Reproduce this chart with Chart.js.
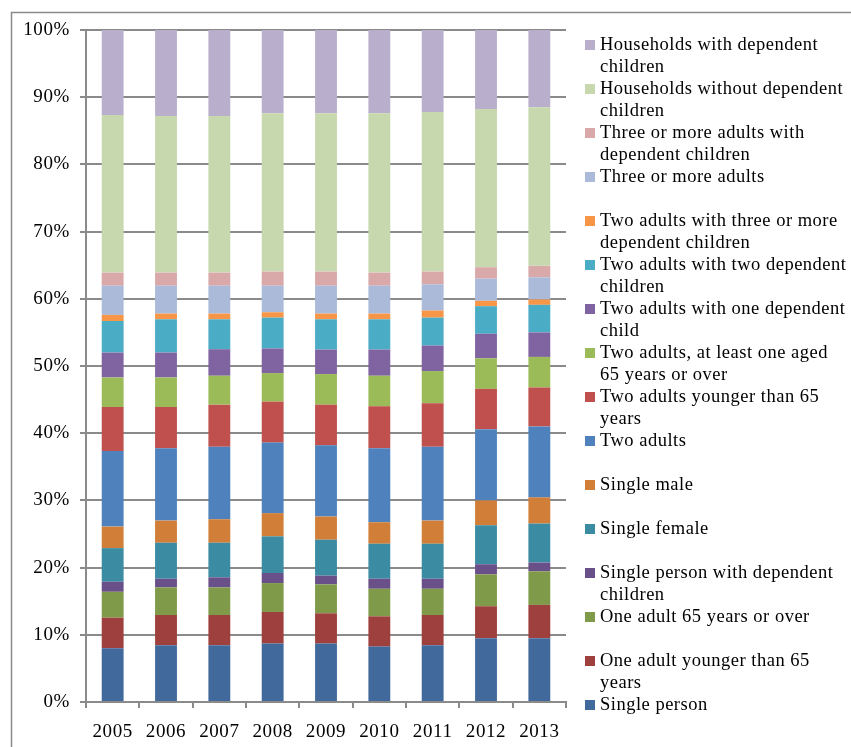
<!DOCTYPE html>
<html>
<head>
<meta charset="utf-8">
<script src="https://cdn.jsdelivr.net/npm/chart.js@4/dist/chart.umd.min.js"></script>
<style>
  html, body { margin: 0; padding: 0; background: #fff; }
  canvas { display: block; }
</style>
</head>
<body>
<canvas id="chart" width="851" height="747"></canvas>
<script>
// Household composition shares by year (percent of all households)
const years = ['2005', '2006', '2007', '2008', '2009', '2010', '2011', '2012', '2013'];
const yTicks = [0, 10, 20, 30, 40, 50, 60, 70, 80, 90, 100];

const singlePerson            = [8.0, 8.45, 8.45, 8.7, 8.7, 8.25, 8.45, 9.5, 9.5];
const oneAdultUnder65         = [4.55, 4.5, 4.5, 4.7, 4.5, 4.5, 4.5, 4.75, 4.95];
const oneAdult65Plus          = [3.85, 4.1, 4.1, 4.3, 4.3, 4.1, 3.9, 4.75, 5.0];
const singleWithChildren      = [1.5, 1.3, 1.5, 1.5, 1.3, 1.5, 1.5, 1.5, 1.3];
const singleFemale            = [5.0, 5.35, 5.15, 5.45, 5.35, 5.2, 5.2, 5.8, 5.8];
const singleMale              = [3.2, 3.3, 3.5, 3.45, 3.45, 3.2, 3.45, 3.7, 3.9];
const twoAdults               = [11.25, 10.75, 10.8, 10.5, 10.6, 11.0, 11.0, 10.6, 10.55];
const twoAdultsUnder65        = [6.55, 6.15, 6.25, 6.1, 6.05, 6.25, 6.45, 6.0, 5.8];
const twoAdults65Plus         = [4.4, 4.4, 4.3, 4.25, 4.55, 4.55, 4.8, 4.55, 4.55];
const twoAdultsOneChild       = [3.7, 3.7, 3.95, 3.65, 3.65, 3.9, 3.8, 3.65, 3.65];
const twoAdultsTwoChildren    = [4.7, 4.95, 4.45, 4.6, 4.5, 4.5, 4.15, 4.1, 4.1];
const twoAdultsThreeChildren  = [0.9, 0.85, 0.85, 0.8, 0.85, 0.85, 1.05, 0.8, 0.8];
const threeAdults             = [4.35, 4.15, 4.15, 3.95, 4.15, 4.15, 3.9, 3.3, 3.3];
const threeAdultsWithChildren = [1.95, 1.95, 1.95, 2.1, 2.1, 1.95, 1.9, 1.7, 1.7];
const householdsNoChildren    = [23.45, 23.3, 23.3, 23.55, 23.55, 23.7, 23.75, 23.55, 23.6];
const householdsWithChildren  = [12.65, 12.8, 12.8, 12.4, 12.4, 12.4, 12.2, 11.75, 11.5];

// Series from the bottom of each stack upward; label lines as shown in the key
const series = [
  { lines: ['Single person'], data: singlePerson, color: '#41699c' },
  { lines: ['One adult younger than 65', 'years'], data: oneAdultUnder65, color: '#9e403e' },
  { lines: ['One adult 65 years or over'], data: oneAdult65Plus, color: '#7f9a48' },
  { lines: ['Single person with dependent', 'children'], data: singleWithChildren, color: '#695088' },
  { lines: ['Single female'], data: singleFemale, color: '#3b8ca3' },
  { lines: ['Single male'], data: singleMale, color: '#d17f38' },
  { lines: ['Two adults'], data: twoAdults, color: '#4f81bd' },
  { lines: ['Two adults younger than 65', 'years'], data: twoAdultsUnder65, color: '#c0504d' },
  { lines: ['Two adults, at least one aged', '65 years or over'], data: twoAdults65Plus, color: '#9bbb59' },
  { lines: ['Two adults with one dependent', 'child'], data: twoAdultsOneChild, color: '#8064a2' },
  { lines: ['Two adults with two dependent', 'children'], data: twoAdultsTwoChildren, color: '#4bacc6' },
  { lines: ['Two adults with three or more', 'dependent children'], data: twoAdultsThreeChildren, color: '#f79646' },
  { lines: ['Three or more adults'], data: threeAdults, color: '#aabad8' },
  { lines: ['Three or more adults with', 'dependent children'], data: threeAdultsWithChildren, color: '#d9a9a9' },
  { lines: ['Households without dependent', 'children'], data: householdsNoChildren, color: '#c7d7ae' },
  { lines: ['Households with dependent', 'children'], data: householdsWithChildren, color: '#b9aecb' }
];

const FONT = '"Liberation Serif", "Times New Roman", serif';
const AXIS_GREY = '#8a8a8a';

// Frame around the whole chart (top and left edges visible); slightly airy text
const framePlugin = {
  id: 'frame',
  beforeDraw(chart) {
    const ctx = chart.ctx;
    ctx.letterSpacing = '0.6px';
    ctx.save();
    ctx.strokeStyle = AXIS_GREY;
    ctx.lineWidth = 1.5;
    ctx.beginPath();
    ctx.moveTo(11.5, chart.height + 2);
    ctx.lineTo(11.5, 12.5);
    ctx.lineTo(chart.width + 2, 12.5);
    ctx.stroke();
    ctx.restore();
  }
};

// Key on the right, listed top-down from the last series to the first
const sideLegend = {
  id: 'sideLegend',
  afterDraw(chart) {
    const ctx = chart.ctx;
    ctx.save();
    ctx.letterSpacing = '0.5px';
    ctx.font = '18.5px ' + FONT;
    ctx.textBaseline = 'middle';
    ctx.textAlign = 'left';
    const n = chart.data.datasets.length;
    for (let i = 0; i < n; i++) {
      const ds = chart.data.datasets[n - 1 - i];
      const y = 45 + i * 44;
      ctx.fillStyle = ds.backgroundColor;
      ctx.fillRect(585, y - 5, 10, 10);
      ctx.fillStyle = '#000';
      ds.labelLines.forEach((line, k) => ctx.fillText(line, 600, y + k * 22.5));
    }
    ctx.restore();
  }
};

new Chart(document.getElementById('chart'), {
  type: 'bar',
  data: {
    labels: years,
    datasets: series.map(s => ({
      label: s.lines.join(' '),
      labelLines: s.lines,
      data: s.data,
      backgroundColor: s.color,
      borderWidth: 0,
      categoryPercentage: 1,
      barPercentage: 0.41
    }))
  },
  options: {
    responsive: false,
    animation: false,
    layout: { padding: { left: 0, right: 285, top: 30, bottom: 0 } },
    plugins: {
      legend: { display: false },
      tooltip: { enabled: false }
    },
    scales: {
      x: {
        stacked: true,
        grid: {
          display: true,
          drawOnChartArea: false,
          drawTicks: true,
          tickLength: 6,
          color: AXIS_GREY,
          lineWidth: 2
        },
        border: { color: AXIS_GREY, width: 2 },
        ticks: {
          color: '#000',
          font: { family: FONT, size: 19 },
          padding: 13,
          maxRotation: 0
        },
        afterFit(scale) { scale.height = 45; }
      },
      y: {
        stacked: true,
        min: 0,
        max: 100,
        afterBuildTicks(scale) { scale.ticks = yTicks.map(v => ({ value: v })); },
        grid: {
          color: AXIS_GREY,
          lineWidth: 2,
          tickLength: 6
        },
        border: { color: AXIS_GREY, width: 2 },
        ticks: {
          color: '#000',
          font: { family: FONT, size: 19 },
          padding: 10,
          callback: v => v + '%'
        },
        afterFit(scale) { scale.width = 86; }
      }
    }
  },
  plugins: [framePlugin, sideLegend]
});
</script>
</body>
</html>
